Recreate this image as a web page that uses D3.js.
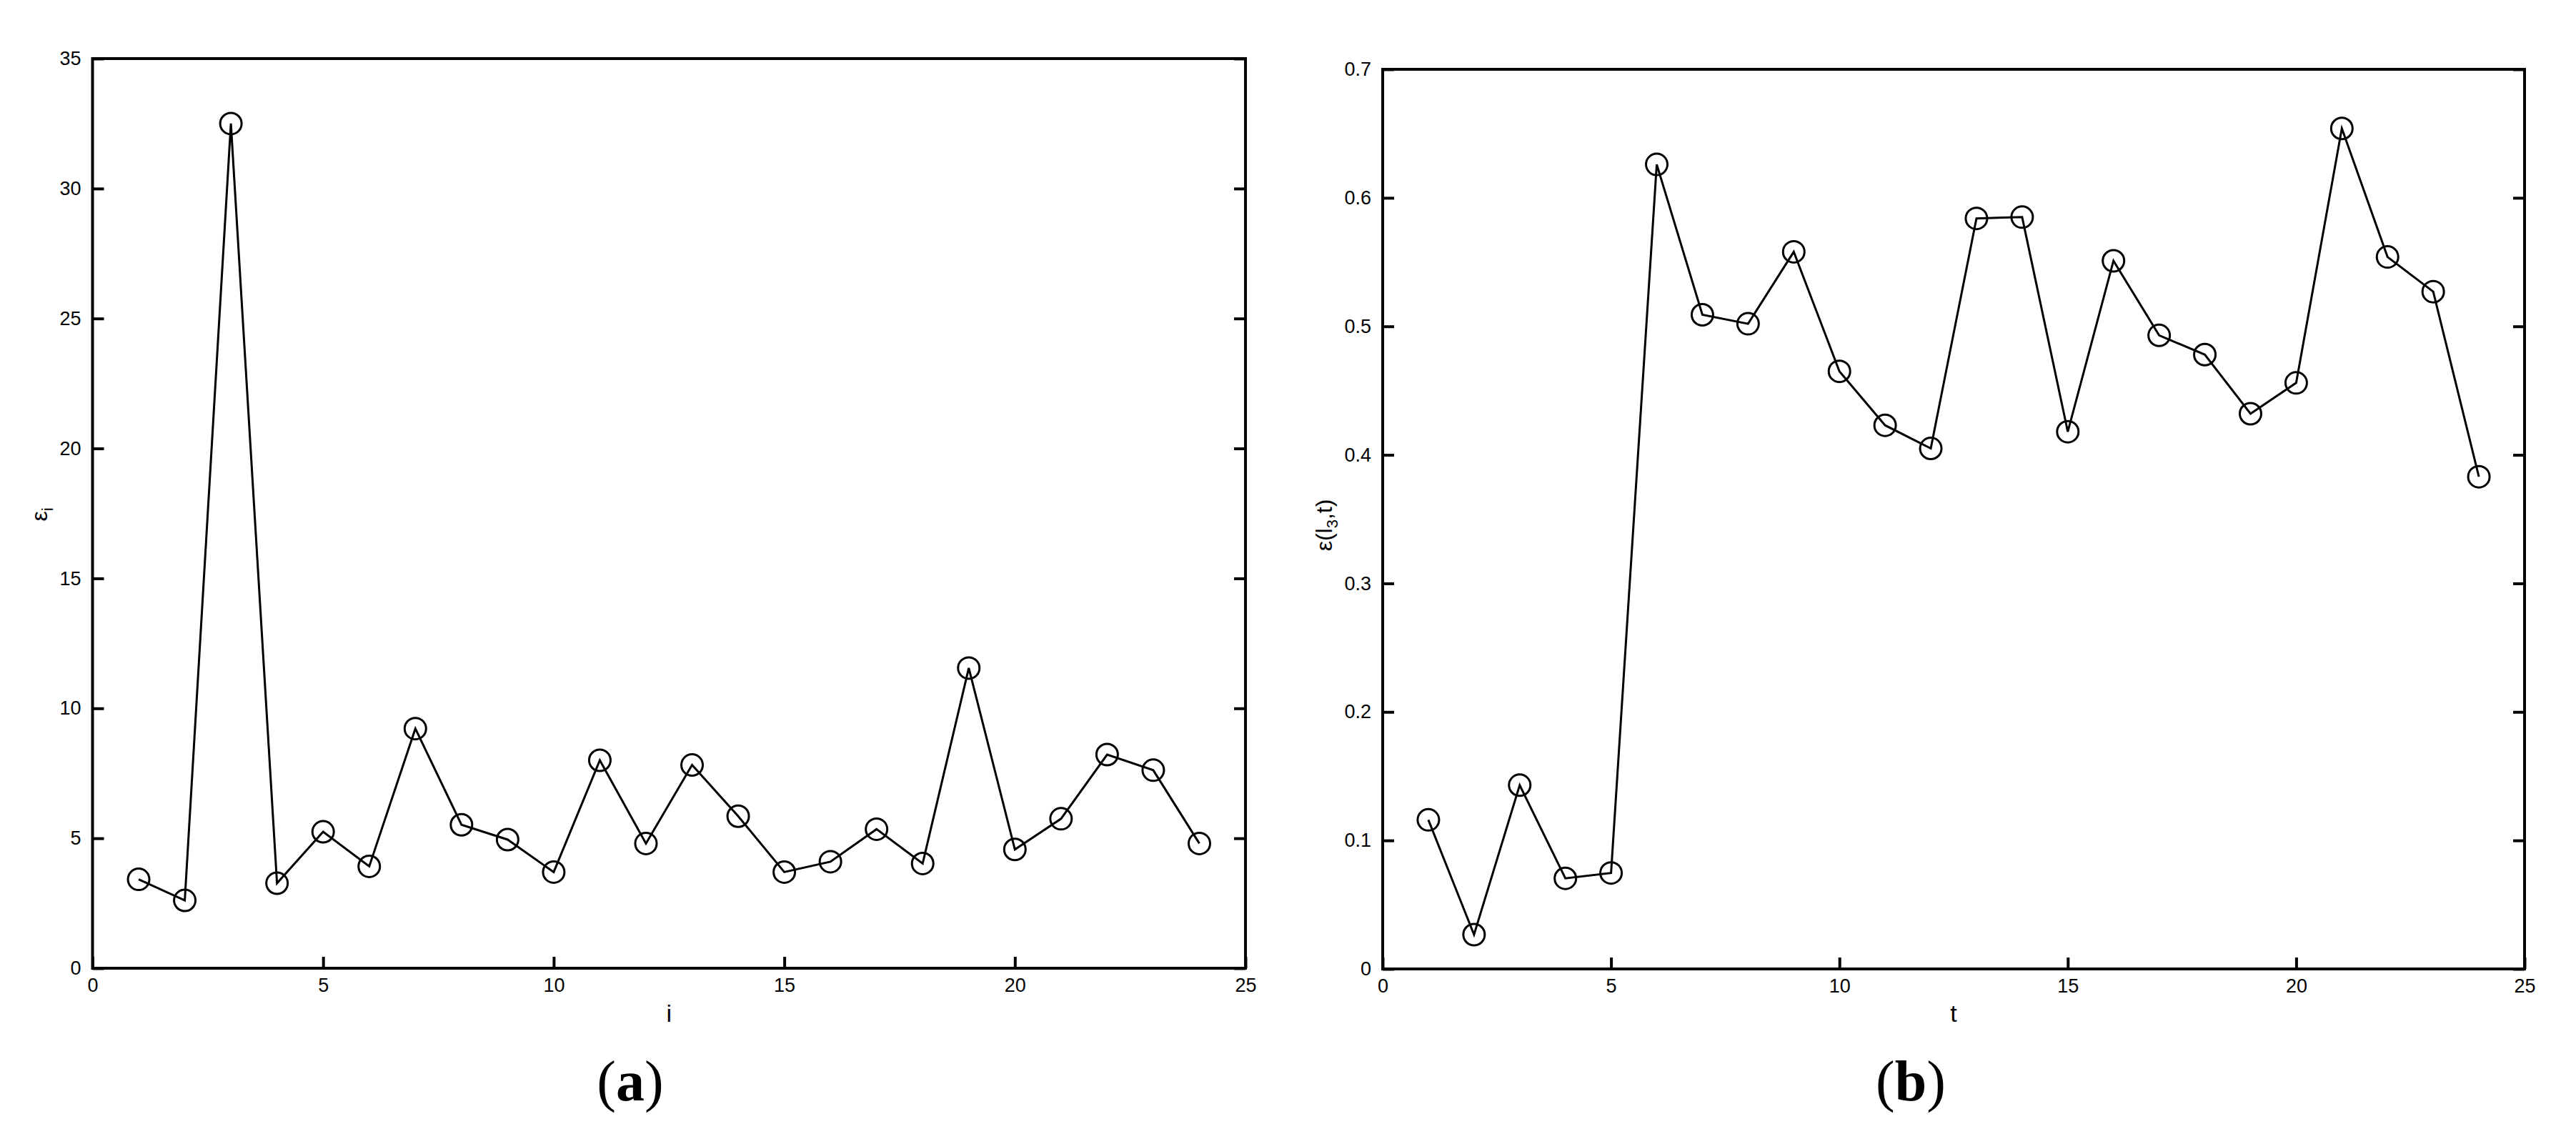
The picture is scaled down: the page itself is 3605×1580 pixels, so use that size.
<!DOCTYPE html>
<html><head><meta charset="utf-8">
<script src="https://cdn.jsdelivr.net/npm/d3@7"></script>
<style>
body{margin:0;background:#fff;}
svg{display:block;}
.tick text{font-family:"Liberation Sans",Arial,sans-serif;}
</style></head>
<body>
<script>
const idx = d3.range(1, 25);
const epsA = [3.42, 2.61, 32.5, 3.27, 5.25, 3.92, 9.22, 5.52, 4.95, 3.7, 8.0, 4.8, 7.82, 5.85, 3.7, 4.1, 5.35, 4.03, 11.55, 4.57, 5.75, 8.22, 7.62, 4.8];
const epsB = [0.116, 0.0267, 0.143, 0.0705, 0.0747, 0.626, 0.509, 0.502, 0.558, 0.465, 0.423, 0.405, 0.584, 0.585, 0.418, 0.551, 0.493, 0.478, 0.432, 0.456, 0.654, 0.554, 0.527, 0.383];
const xTicks = [0, 5, 10, 15, 20, 25];
const yTicksA = [0, 5, 10, 15, 20, 25, 30, 35];
const yTicksB = [0, 0.1, 0.2, 0.3, 0.4, 0.5, 0.6, 0.7];

const W = 3605, H = 1580;
const svg = d3.select("body").append("svg").attr("width", W).attr("height", H);

function panel(cfg) {
  const x = d3.scaleLinear().domain([0, 25]).range([cfg.x0, cfg.x1]);
  const y = d3.scaleLinear().domain(cfg.ydom).range([cfg.y0, cfg.y1]);
  const g = svg.append("g");
  const tickFont = 27;
  // bottom axis
  const ax = g.append("g").attr("transform", `translate(0,${cfg.y0})`)
    .call(d3.axisBottom(x).tickValues(xTicks).tickSizeInner(-16).tickSizeOuter(0).tickPadding(14).tickFormat(d3.format("d")));
  ax.selectAll("text").attr("font-size", tickFont).attr("dy", "0.71em").attr("fill", "#000");
  // left axis
  const ay = g.append("g").attr("transform", `translate(${cfg.x0},0)`)
    .call(d3.axisLeft(y).tickValues(cfg.yticks).tickSizeInner(-16).tickSizeOuter(0).tickPadding(16).tickFormat(cfg.fmt));
  ay.selectAll("text").attr("font-size", tickFont).attr("fill", "#000");
  // right axis ticks (no labels)
  g.append("g").attr("transform", `translate(${cfg.x1},0)`)
    .call(d3.axisRight(y).tickValues(cfg.yticks).tickSizeInner(-16).tickSizeOuter(0).tickFormat(""));
  g.selectAll(".domain").remove();
  g.selectAll(".tick line").attr("stroke", "#000").attr("stroke-width", 4);
  // box
  g.append("rect").attr("x", cfg.x0).attr("y", cfg.y1)
    .attr("width", cfg.x1 - cfg.x0).attr("height", cfg.y0 - cfg.y1)
    .attr("fill", "none").attr("stroke", "#000").attr("stroke-width", 4);
  // line
  const line = d3.line().x((d, i) => x(idx[i])).y(d => y(d));
  g.append("path").datum(cfg.vals).attr("d", line)
    .attr("fill", "none").attr("stroke", "#000").attr("stroke-width", 3).attr("stroke-linejoin", "miter");
  g.selectAll("circle.pt").data(cfg.vals).enter().append("circle")
    .attr("class", "pt").attr("cx", (d, i) => x(idx[i])).attr("cy", d => y(d)).attr("r", 15)
    .attr("fill", "none").attr("stroke", "#000").attr("stroke-width", 3);
  // x label
  g.append("text").attr("x", (cfg.x0 + cfg.x1) / 2).attr("y", 1430)
    .attr("text-anchor", "middle").attr("font-family", "Liberation Sans, Arial, sans-serif")
    .attr("font-size", 34).text(cfg.xlabel);
  // y label
  const yl = g.append("text").attr("transform", `translate(${cfg.ylx},${cfg.yly}) rotate(-90)`)
    .attr("text-anchor", "middle").attr("font-family", "Liberation Sans, Arial, sans-serif")
    .attr("font-size", 32);
  cfg.ylabel(yl);
  // caption
  const cap = g.append("text").attr("x", cfg.capx).attr("y", 1540).attr("text-anchor", "middle")
    .attr("font-family", "Liberation Serif, Times New Roman, serif").attr("font-size", 80);
  cap.append("tspan").text("(");
  cap.append("tspan").attr("font-weight", "bold").text(cfg.cap);
  cap.append("tspan").text(")");
}

panel({
  x0: 129.5, x1: 1743, y0: 1355, y1: 82, ydom: [0, 35], yticks: yTicksA, fmt: d3.format("d"),
  vals: epsA, xlabel: "i", ylx: 66, yly: 720, capx: 882, cap: "a",
  ylabel: t => { t.append("tspan").text("ε"); t.append("tspan").attr("font-size", 22).attr("dy", 8).text("i"); }
});
panel({
  x0: 1935, x1: 3533, y0: 1356, y1: 97, ydom: [0, 0.7], yticks: yTicksB, fmt: d => d === 0 ? "0" : d3.format(".1f")(d),
  vals: epsB, xlabel: "t", ylx: 1864, yly: 735, capx: 2674, cap: "b",
  ylabel: t => {
    t.append("tspan").text("ε(l");
    t.append("tspan").attr("font-size", 22).attr("dy", 8).text("3");
    t.append("tspan").attr("dy", -8).text(",t)");
  }
});
</script>
</body></html>
